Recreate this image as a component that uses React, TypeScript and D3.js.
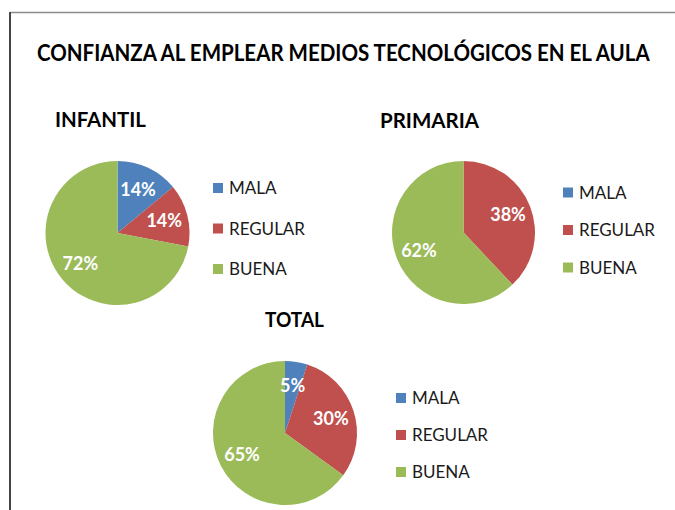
import React, { useLayoutEffect, useRef, useState } from "react";
import * as d3 from "d3";

const categories = ["MALA", "REGULAR", "BUENA"];
const colors = ["#4F81BD", "#C0504D", "#9BBB59"];
const infantilValues = [14, 14, 72];
const primariaValues = [0, 38, 62];
const totalValues = [5, 30, 65];
const chartTitle = "CONFIANZA AL EMPLEAR MEDIOS TECNOLÓGICOS EN EL AULA";

type PieSpec = {
  name: string;
  values: number[];
  cx: number;
  cy: number;
  r: number;
  titleX: number;
  titleY: number;
  titleW: number;
  legX: number;
  legY0: number;
  legStep: number;
};

const pies: PieSpec[] = [
  { name: "INFANTIL", values: infantilValues, cx: 117.5, cy: 233, r: 72, titleX: 55, titleY: 126.5, titleW: 91, legX: 213, legY0: 188, legStep: 40.5 },
  { name: "PRIMARIA", values: primariaValues, cx: 463.5, cy: 232.5, r: 71.5, titleX: 380, titleY: 127.5, titleW: 99, legX: 563, legY0: 192.5, legStep: 37.5 },
  { name: "TOTAL", values: totalValues, cx: 285, cy: 433, r: 72, titleX: 265, titleY: 327, titleW: 59, legX: 396, legY0: 398, legStep: 37 },
];

const FONT = "Lato, 'Open Sans', 'DejaVu Sans', sans-serif";

function FitText({ x, y, width, size, bold, children }: { x: number; y: number; width: number; size: number; bold?: boolean; children: string }) {
  const ref = useRef<SVGTextElement>(null);
  const [sx, setSx] = useState(1);
  useLayoutEffect(() => {
    if (ref.current) {
      const w = ref.current.getComputedTextLength();
      if (w > 0) setSx(width / w);
    }
  }, [width, children]);
  return (
    <g transform={`translate(${x},${y}) scale(${sx},1)`}>
      <text ref={ref} x={0} y={0} fontFamily={FONT} fontWeight={bold ? "bold" : "normal"} fontSize={size} fill="#000">
        {children}
      </text>
    </g>
  );
}

function Pie({ spec }: { spec: PieSpec }) {
  const pieGen = d3
    .pie<number>()
    .sort(null)
    .value((d) => d)
    .startAngle(0)
    .endAngle(2 * Math.PI);
  const arcs = pieGen(spec.values);
  const arcGen = d3.arc<d3.PieArcDatum<number>>().innerRadius(0).outerRadius(spec.r);
  const labelArc = d3
    .arc<d3.PieArcDatum<number>>()
    .innerRadius(spec.r * 0.67)
    .outerRadius(spec.r * 0.67);
  return (
    <g>
      <FitText x={spec.titleX} y={spec.titleY} width={spec.titleW} size={20} bold>
        {spec.name}
      </FitText>
      <g transform={`translate(${spec.cx},${spec.cy})`}>
        {arcs.map((a, i) =>
          a.value > 0 ? <path key={i} d={arcGen(a) || ""} fill={colors[i]} /> : null
        )}
        {arcs.map((a, i) => {
          if (a.value <= 0) return null;
          const [x, y] = labelArc.centroid(a);
          return (
            <text
              key={"l" + i}
              x={x}
              y={y}
              dy="0.36em"
              textAnchor="middle"
              fontFamily={FONT}
              fontWeight="bold"
              fontSize={18}
              fill="#fff"
            >
              {a.value + "%"}
            </text>
          );
        })}
      </g>
      {categories.map((c, i) => {
        const y = spec.legY0 + i * spec.legStep;
        return (
          <g key={c}>
            <rect x={spec.legX} y={y - 5} width={10} height={10} fill={colors[i]} />
            <text
              x={spec.legX + 16}
              y={y}
              dy="0.36em"
              fontFamily={FONT}
              fontSize={17}
              fill="#1a1a1a"
            >
              {c}
            </text>
          </g>
        );
      })}
    </g>
  );
}

export default function App() {
  return (
    <svg
      width={675}
      height={510}
      style={{ position: "absolute", left: 0, top: 0, background: "#fff" }}
    >
      <rect x={0} y={0} width={675} height={510} fill="#fff" />
      <line x1={10} y1={12.5} x2={675} y2={12.5} stroke="#8c8c8c" strokeWidth={1.5} />
      <line x1={10} y1={12} x2={10} y2={510} stroke="#454545" strokeWidth={2} />
      <FitText x={37} y={61} width={613} size={23} bold>
        {chartTitle}
      </FitText>
      {pies.map((p) => (
        <Pie key={p.name} spec={p} />
      ))}
    </svg>
  );
}
